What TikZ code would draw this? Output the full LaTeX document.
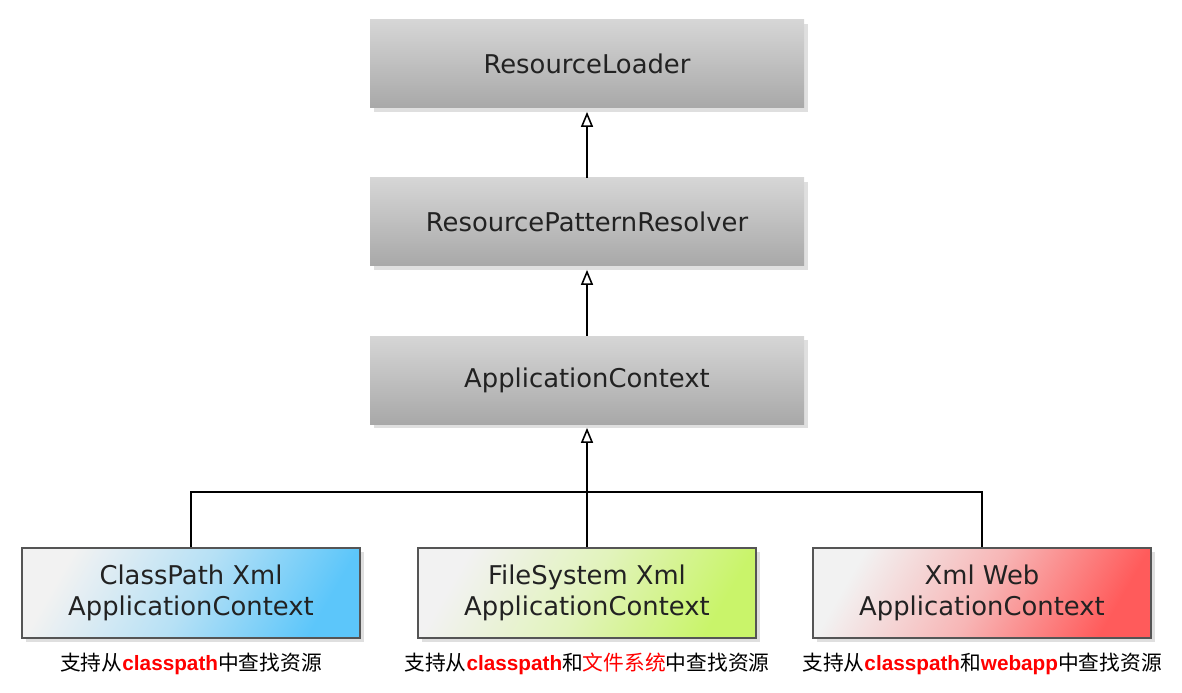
\documentclass[tikz,border=0pt]{standalone}
\usepackage{fontspec}
\setmainfont{DejaVu Sans}
\newfontfamily\cjk{Noto Sans CJK SC}
\newfontfamily\latin{Liberation Sans}
\usepackage{tikz}
\usetikzlibrary{shadows, arrows.meta, positioning}

\definecolor{boxtop}{HTML}{D6D6D6}
\definecolor{boxbot}{HTML}{A8A8A8}
\definecolor{cpblue}{HTML}{5CC6FA}
\definecolor{fsgreen}{HTML}{C9F46A}
\definecolor{webred}{HTML}{FF5B5B}
\definecolor{paleleft}{HTML}{F2F2F2}
\definecolor{edge}{HTML}{555555}
\definecolor{txt}{HTML}{222222}

\newcommand{\hl}[1]{{\latin\bfseries\color{red}#1}}
\newcommand{\hlc}[1]{{\color{red}#1}}

\begin{document}
\begin{tikzpicture}[
        % Style for the interface boxes (gray, no frame)
        iface/.style={
            rectangle, top color=boxtop, bottom color=boxbot,
            minimum width=8.68cm, minimum height=1.76cm,
            text=txt, font=\fontsize{14.7}{17.6}\selectfont,
            drop shadow={shadow xshift=2pt, shadow yshift=-2pt, opacity=0.25}
        },
        % Style for the concrete classes (framed, diagonal shade)
        impl/.style={
            rectangle, draw=edge, line width=1pt,
            minimum width=6.76cm, minimum height=1.8cm,
            align=center, text=txt, font=\fontsize{14.7}{17.6}\selectfont,
            drop shadow={shadow xshift=2pt, shadow yshift=-2pt, opacity=0.25}
        },
        note/.style={font=\cjk\fontsize{11.8}{13}\selectfont, inner sep=0pt},
        inherit/.style={line width=0.9pt, -{Triangle[open, length=0.3cm, width=0.24cm, line width=0.9pt]}},
        bus/.style={line width=0.9pt}
    ]
        \useasboundingbox (0,0) rectangle (23.64,-13.86);

        % 1. Interfaces
        \node[iface] (loader)   at (11.74, -1.28) {ResourceLoader};
        \node[iface] (resolver) at (11.74, -4.44) {ResourcePatternResolver};
        \node[iface] (appctx)   at (11.74, -7.60) {ApplicationContext};

        % 2. Implementations
        \node[impl, top color=paleleft, bottom color=cpblue, middle color=cpblue!40!paleleft, shading angle=60]
            (classpath) at (3.82, -11.86) {ClassPath Xml\\ApplicationContext};
        \node[impl, top color=paleleft, bottom color=fsgreen, middle color=fsgreen!40!paleleft, shading angle=60]
            (filesys) at (11.74, -11.86) {FileSystem Xml\\ApplicationContext};
        \node[impl, top color=paleleft, bottom color=webred, middle color=webred!40!paleleft, shading angle=60]
            (xmlweb) at (19.64, -11.86) {Xml Web\\ApplicationContext};

        % 3. Notes under the implementations
        \node[note] (cpnote)  at (3.82, -13.28)  {支持从\hl{classpath}中查找资源};
        \node[note] (fsnote)  at (11.74, -13.28) {支持从\hl{classpath}和\hlc{文件系统}中查找资源};
        \node[note] (webnote) at (19.64, -13.28) {支持从\hl{classpath}和\hl{webapp}中查找资源};

        % 4. Inheritance
        \draw[inherit] (resolver.north) -- ([yshift=-2pt]loader.south);
        \draw[inherit] (appctx.north) -- ([yshift=-2pt]resolver.south);
        \draw[bus] (classpath.north) -- ++(0,1.1) -| (xmlweb.north);
        \draw[inherit] (filesys.north) -- ([yshift=-2pt]appctx.south);

\end{tikzpicture}
\end{document}
